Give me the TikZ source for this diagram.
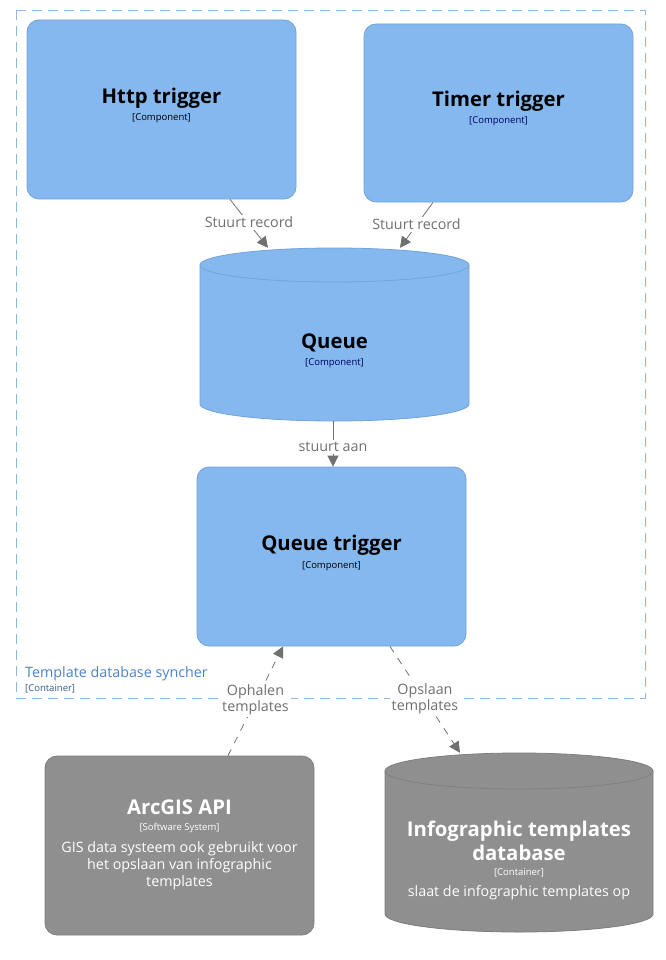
\documentclass[tikz,border=0pt]{standalone}
\usepackage{fontspec}
\setmainfont{Open Sans}
\usetikzlibrary{arrows.meta,calc}
\definecolor{compblue}{HTML}{85B8EE}
\definecolor{compborder}{HTML}{72A3D9}
\definecolor{extgray}{HTML}{8F8F8F}
\definecolor{extborder}{HTML}{7F7F7F}
\definecolor{linkgray}{HTML}{707070}
\definecolor{contblue}{HTML}{8DB9E3}
\definecolor{conttext}{HTML}{4A84C8}
\begin{document}
\begin{tikzpicture}[x=1pt,y=-1pt,
  compbox/.style={draw=compborder,fill=compblue,rounded corners=12pt,line width=0.8pt,minimum width=269pt,minimum height=179pt,inner sep=0pt},
  extbox/.style={draw=extborder,fill=extgray,rounded corners=12pt,line width=0.8pt,minimum width=269pt,minimum height=179pt,inner sep=0pt},
  anchorbox/.style={inner sep=0pt,minimum width=#1},
  ttl/.style={font=\bfseries\fontsize{20.3}{24}\selectfont,align=center,inner sep=0pt},
  sub/.style={font=\fontsize{9.5}{11}\selectfont,inner sep=0pt},
  desc/.style={font=\fontsize{14.3}{17}\selectfont,align=center,inner sep=0pt},
  lbl/.style={font=\fontsize{14.3}{16.5}\selectfont,text=linkgray,fill=white,align=center,inner sep=2pt},
  link/.style={draw=linkgray,line width=0.8pt,-{Triangle[length=11pt,width=11pt]}},
  dlink/.style={link,dash pattern=on 7pt off 7pt}
]
\useasboundingbox (0,0) rectangle (665,960);
\fill[white] (0,0) rectangle (665,960);

% container
\draw[contblue,line width=0.8pt,dash pattern=on 10pt off 6pt] (16,10) rectangle (645,698);
\node[anchor=west,inner sep=0pt,text=conttext,font=\fontsize{14.3}{16}\selectfont] (ctitle) at (25,674) {Template database syncher};
\node[anchor=west,inner sep=0pt,text=conttext!70!black,font=\fontsize{9.5}{11}\selectfont] (csub) at (25,689) {[Container]};

% Http trigger
\node[compbox] (http) at (161.5,109.5) {};
\node[ttl] (httpt) at (161.5,98.5) {Http trigger};
\node[sub] (https) at (161.5,118) {[Component]};

% Timer trigger
\node[compbox,minimum height=178pt] (timer) at (498.5,113) {};
\node[ttl] (timert) at (498.5,101.5) {Timer trigger};
\node[sub,text=blue!40!black] (timers) at (498.5,121) {[Component]};

% Queue cylinder
\fill[compblue] (200,265) -- (200,404) arc (180:360:134.5pt and 17pt) -- (469,265) -- cycle;
\fill[compblue] (334.5,404) ellipse (134.5pt and 17pt);
\draw[compborder,line width=0.8pt] (200,265) -- (200,404) arc (-180:0:134.5pt and 17pt) -- (469,265);
\draw[compborder,line width=0.8pt,fill=compblue] (334.5,265) ellipse (134.5pt and 17pt);
\node[anchorbox=269pt,minimum height=173pt] (queue) at (334.5,334.5) {};
\node[ttl] (queuet) at (334.5,342.5) {Queue};
\node[sub,text=blue!40!black] (queues) at (334.5,363) {[Component]};

% Queue trigger
\node[compbox] (qtrig) at (331.5,556.5) {};
\node[ttl] (qtrigt) at (331.5,545.5) {Queue trigger};
\node[sub] (qtrigs) at (331.5,566) {[Component]};

% ArcGIS API
\node[extbox] (arcgis) at (179.5,845.5) {};
\node[ttl,text=white] (arcgist) at (179.5,807.5) {ArcGIS API};
\node[sub,text=white] (arcgiss) at (179.5,828) {[Software System]};
\node[desc,text=white] (arcgisd) at (179.5,866) {GIS data systeem ook gebruikt voor\\het opslaan van infographic\\templates};

% Infographic templates database
\fill[extgray] (385,771) -- (385,914) arc (180:360:134pt and 18pt) -- (653,771) -- cycle;
\fill[extgray] (519,914) ellipse (134pt and 18pt);
\draw[extborder,line width=0.8pt] (385,771) -- (385,914) arc (-180:0:134pt and 18pt) -- (653,771);
\draw[extborder,line width=0.8pt,fill=extgray] (519,771) ellipse (134pt and 18pt);
\node[anchorbox=268pt,minimum height=179pt] (db) at (519,842.5) {};
\node[ttl,text=white] (dbt) at (519,840.5) {Infographic templates\\database};
\node[sub,text=white] (dbs) at (519,873) {[Container]};
\node[desc,text=white] (dbd) at (519,893) {slaat de infographic templates op};

% connectors
\draw[link] ([xshift=68.5pt]http.south) -- node[lbl,yshift=1pt] {Stuurt record} ([xshift=-66.5pt]queue.north);
\draw[link] ([xshift=-65.5pt]timer.south) -- node[lbl,yshift=1pt] {Stuurt record} ([xshift=65.5pt]queue.north);
\draw[link] ([xshift=-1.5pt]queue.south) -- node[lbl,pos=0.57] {stuurt aan} ([xshift=1.5pt]qtrig.north);
\draw[dlink] ([xshift=48.5pt]arcgis.north) -- node[lbl,yshift=1pt] {Ophalen\\templates} ([xshift=-48.5pt]qtrig.south);
\draw[dlink] ([xshift=58.5pt]qtrig.south) -- node[lbl,yshift=1pt] {Opslaan\\templates} ([xshift=-59pt]db.north);
\end{tikzpicture}
\end{document}
